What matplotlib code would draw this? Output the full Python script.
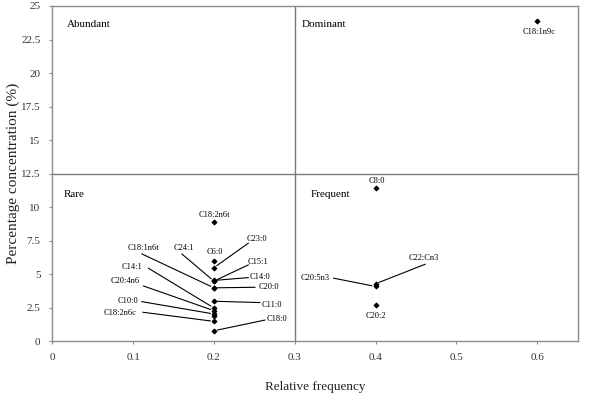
import matplotlib
matplotlib.use("Agg")
import matplotlib.pyplot as plt

plt.rcParams['font.family'] = ['Liberation Serif', 'DejaVu Serif']

# Rare quadrant (relative frequency 0.2)
rare_names = ['C18:2n6t', 'C6:0', 'C23:0', 'C24:1', 'C15:1', 'C14:0', 'C18:1n6t',
              'C20:0', 'C11:0', 'C14:1', 'C20:4n6', 'C10:0', '', 'C18:2n6c', 'C18:0']
rare_freq = [0.2] * len(rare_names)
rare_conc = [8.9, 6.0, 5.5, 4.5, 4.5, 4.55, 4.0,
             4.0, 3.0, 2.5, 2.3, 2.05, 1.9, 1.5, 0.8]

# Frequent quadrant (0.4) and dominant (0.6)
freq_names = ['C8:0', 'C22:Cn3', 'C20:5n3', 'C20:2']
freq_freq = [0.4, 0.4, 0.4, 0.4]
freq_conc = [11.4, 4.3, 4.1, 2.75]

dom_names = ['C18:1n9c']
dom_freq = [0.6]
dom_conc = [23.9]

# label placement: name -> (text x, text y, line start or None)
label_pos = {
    'C18:2n6t': (0.200, 9.44, None),
    'C6:0': (0.2015, 6.70, None),
    'C23:0': (0.2531, 7.65, (0.2427, 7.33)),
    'C24:1': (0.1631, 6.96, (0.1602, 6.53)),
    'C15:1': (0.2551, 5.91, (0.2427, 5.71)),
    'C14:0': (0.2572, 4.84, (0.2427, 4.76)),
    'C18:1n6t': (0.1127, 6.96, (0.1107, 6.53)),
    'C20:0': (0.2675, 4.04, (0.2510, 4.04)),
    'C11:0': (0.2717, 2.70, (0.2572, 2.90)),
    'C18:0': (0.2779, 1.66, (0.2634, 1.60)),
    'C14:1': (0.0983, 5.58, (0.1189, 5.46)),
    'C20:4n6': (0.0900, 4.54, (0.1127, 4.14)),
    'C10:0': (0.0941, 3.04, (0.1107, 2.97)),
    'C18:2n6c': (0.0838, 2.10, (0.1120, 2.18)),
    'C8:0': (0.4017, 11.93, None),
    'C22:Cn3': (0.4594, 6.21, (0.4616, 5.76)),
    'C20:5n3': (0.3253, 4.72, (0.3480, 4.72)),
    'C20:2': (0.4009, 1.93, None),
    'C18:1n9c': (0.6019, 23.07, None),
}

fig = plt.figure(figsize=(5.89, 3.97), dpi=100)
ax = fig.add_axes([0.0888, 0.1398, 0.8917, 0.8452])

grey = '#8c8c8c'
ax.axvline(0.3, color='#7a7a7a', lw=1.0, zorder=1)
ax.axhline(12.5, color='#7a7a7a', lw=1.0, zorder=1)

names = rare_names + freq_names + dom_names
xs = rare_freq + freq_freq + dom_freq
ys = rare_conc + freq_conc + dom_conc
ax.scatter(xs, ys, marker='D', s=5, color='black', zorder=3)

for name, x, y in zip(names, xs, ys):
    if not name:
        continue
    tx, ty, start = label_pos[name]
    ax.text(tx, ty, name, fontsize=6, ha='center', va='center', zorder=4)
    if start is not None:
        ax.annotate('', xy=(x, y), xytext=start,
                    arrowprops=dict(arrowstyle='-', color='black', lw=0.8,
                                    shrinkA=0, shrinkB=2.5))

quad_labels = [('Abundant', 0.0178, 23.62), ('Rare', 0.0136, 10.93),
               ('Dominant', 0.309, 23.62), ('Frequent', 0.320, 10.93)]
for txt, qx, qy in quad_labels:
    ax.text(qx, qy, txt, fontsize=8, ha='left', va='center')

ax.set_xlim(0, 0.65)
ax.set_ylim(0, 25)
ax.set_xticks([0, 0.1, 0.2, 0.3, 0.4, 0.5, 0.6])
ax.set_xticklabels(['0', '0.1', '0.2', '0.3', '0.4', '0.5', '0.6'])
yt = [0, 2.5, 5, 7.5, 10, 12.5, 15, 17.5, 20, 22.5, 25]
ax.set_yticks(yt)
ax.set_yticklabels(['%g' % v for v in yt])
ax.tick_params(direction='out', length=2.5, width=0.8, colors=grey,
               labelcolor='#333333', labelsize=8, pad=6)
for sp in ax.spines.values():
    sp.set_color(grey)
    sp.set_linewidth(1.0)

ax.set_xlabel('Relative frequency', fontsize=9.5, color='#222222')
ax.xaxis.set_label_coords(0.5, -0.118)
ax.set_ylabel('Percentage concentration (%)', fontsize=11, color='#222222')
ax.yaxis.set_label_coords(-0.062, 0.5)

fig.savefig('out.png', dpi=100)
